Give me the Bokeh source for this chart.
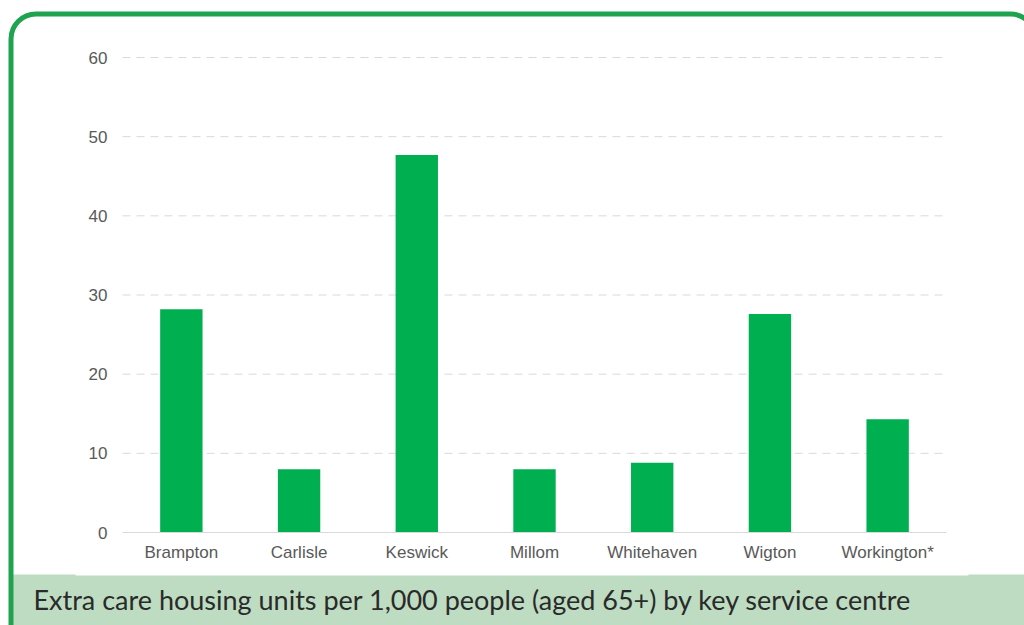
from bokeh.plotting import figure
from bokeh.models import Range1d, BoxAnnotation, Label, FixedTicker
from bokeh.embed import file_html
from bokeh.resources import INLINE

centres = ["Brampton", "Carlisle", "Keswick", "Millom", "Whitehaven", "Wigton", "Workington*"]
units_per_1000 = [28.2, 8.0, 47.7, 8.0, 8.8, 27.6, 14.3]
y_ticks = [0, 10, 20, 30, 40, 50, 60]
caption = "Extra care housing units per 1,000 people (aged 65+) by key service centre"

W, H = 1024, 625
# plot area in pixels: x 122..946, y 57 (=60) .. 532 (=0)
n = len(centres)
px_per_cat = (946 - 122) / n
px_per_unit = (532 - 57) / 60.0
x_start = -122 / px_per_cat
x_end = n + (W - 946) / px_per_cat
y_start = -(H - 532) / px_per_unit
y_end = 60 + 57 / px_per_unit

p = figure(width=W, height=H, output_backend="svg", toolbar_location=None,
           x_range=Range1d(x_start, x_end), y_range=Range1d(y_start, y_end),
           min_border=0)
p.outline_line_color = None
p.background_fill_color = "white"
p.border_fill_color = "white"
p.extra_x_ranges = {"px": Range1d(0, W)}
p.extra_y_ranges = {"px": Range1d(H, 0)}

xs = [i + 0.5 for i in range(n)]

# gridlines
p.segment(x0=[0] * (len(y_ticks) - 1), x1=[n] * (len(y_ticks) - 1), y0=y_ticks[1:], y1=y_ticks[1:],
          line_color="#d9d9d9", line_width=1, line_dash="8 6")

p.vbar(x=xs, top=units_per_1000, width=0.36, fill_color="#00b050", line_color=None)

p.xgrid.visible = False
p.ygrid.visible = False

xa = p.xaxis[0]
xa.fixed_location = 0
xa.bounds = (0, n)
xa.ticker = FixedTicker(ticks=xs)
xa.major_label_overrides = {x: c for x, c in zip(xs, centres)}
xa.axis_line_color = "#d9d9d9"
xa.major_tick_line_color = None
xa.minor_tick_line_color = None
xa.major_tick_out = 0
xa.major_label_standoff = 10

ya = p.yaxis[0]
ya.fixed_location = 0
ya.bounds = (0, 60)
ya.ticker = FixedTicker(ticks=y_ticks)
ya.axis_line_color = None
ya.major_tick_line_color = None
ya.minor_tick_line_color = None
ya.major_tick_out = 0
ya.major_label_standoff = 15

for ax in (xa, ya):
    ax.major_label_text_font = "Liberation Sans"
    ax.major_label_text_font_size = "17px"
    ax.major_label_text_color = "#595959"

# decorations (pixel ranges)
band = BoxAnnotation(left=12, right=1030, top=574, bottom=630,
                     x_range_name="px", y_range_name="px",
                     fill_color="#bddcc1", fill_alpha=1, line_color=None, level="underlay")
p.add_layout(band)
patch = BoxAnnotation(left=75, right=968, top=570, bottom=575,
                      x_range_name="px", y_range_name="px",
                      fill_color="white", fill_alpha=1, line_color=None, level="underlay")
p.add_layout(patch)
frame = BoxAnnotation(left=10.5, right=1035, top=13.5, bottom=720,
                      x_range_name="px", y_range_name="px",
                      fill_alpha=0, line_color="#1fa34f", line_alpha=1, line_width=5, border_radius=25)
p.add_layout(frame)
lab = Label(x=33, y=599, x_range_name="px", y_range_name="px", text=caption,
            text_font="Lato", text_font_size="27px", text_color="#2a2a2a", text_baseline="alphabetic")
p.add_layout(lab)

open("out.html", "w").write(file_html(p, INLINE))
